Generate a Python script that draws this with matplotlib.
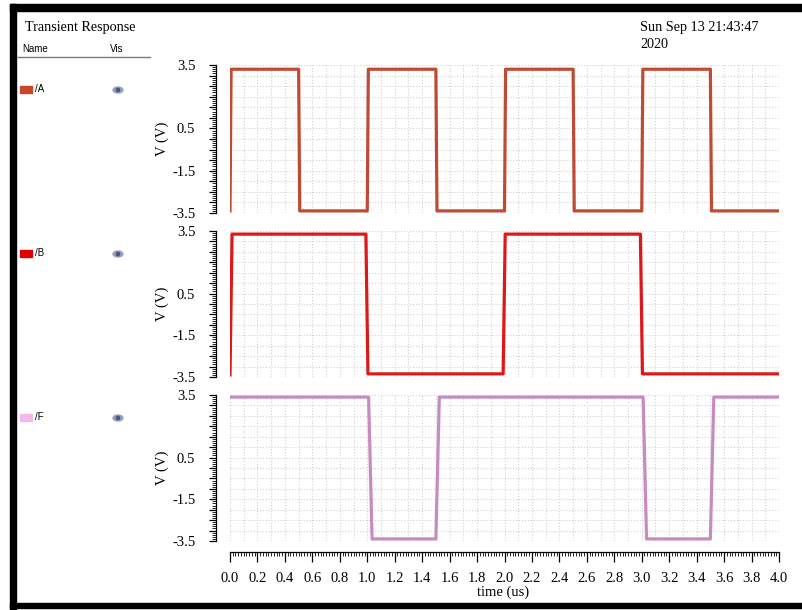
import numpy as np
import matplotlib.pyplot as plt
from matplotlib.patches import Rectangle, Ellipse
from matplotlib.lines import Line2D
from matplotlib.ticker import MultipleLocator, FixedLocator

# Transient response of three digital nets (/A, /B, /F), Cadence-style viewer.

# Data: switching instants (us) and the level reached after each edge (V)
t_end = 4.0
a_start = -3.4
a_edges = [0.0, 0.5, 1.0, 1.5, 2.0, 2.5, 3.0, 3.5]
a_levels = [3.3, -3.4, 3.3, -3.4, 3.3, -3.4, 3.3, -3.4]

b_start = -3.4
b_edges = [0.0, 0.99, 1.99, 2.99]
b_levels = [3.35, -3.35, 3.35, -3.35]

f_start = 3.4
f_edges = [1.01, 1.5, 3.01, 3.5]
f_levels = [-3.4, 3.4, -3.4, 3.4]

names = ['/A', '/B', '/F']
line_colors = ['#BF4B33', '#DD1818', '#C68CC0']
swatch_colors = ['#C8472A', '#E00000', '#F5B8E6']
yticks_shown = [3.5, 0.5, -1.5, -3.5]


def step_wave(start, edges, levels, ramp):
    t, v = [0.0], [start]
    cur = start
    for e, lv in zip(edges, levels):
        if e > 0:
            t.append(e)
            v.append(cur)
        t.append(e + ramp)
        v.append(lv)
        cur = lv
    t.append(t_end)
    v.append(cur)
    return t, v


waves = [step_wave(a_start, a_edges, a_levels, 0.008),
         step_wave(b_start, b_edges, b_levels, 0.015),
         step_wave(f_start, f_edges, f_levels, 0.025)]

W, H = 802, 610
fig = plt.figure(figsize=(W / 100, H / 100), dpi=100)


def fx(px):
    return px / W


def fy(py):
    return 1 - py / H


serif = 'Liberation Serif'
sans = 'Liberation Sans'
fs = 10.5

# black frame
fig.patches.append(Rectangle((fx(10), fy(11)), 1, 7 / H, color='black', transform=fig.transFigure))
fig.patches.append(Rectangle((fx(10), 0), 6 / W, fy(4), color='black', transform=fig.transFigure))
fig.patches.append(Rectangle((fx(10), fy(608)), 1, 5 / H, color='black', transform=fig.transFigure))

# header texts
fig.text(fx(25), fy(28), 'Transient Response', family=serif, fontsize=10.2, ha='left', va='center')
fig.text(fx(22), fy(49), 'Name', family=sans, fontsize=7, ha='left', va='center')
fig.text(fx(110), fy(49), 'Vis', family=sans, fontsize=7, ha='left', va='center')
fig.lines.append(Line2D([fx(18), fx(150)], [fy(57), fy(57)], color='#777777', lw=1, transform=fig.transFigure))
fig.text(fx(640), fy(28), 'Sun Sep 13 21:43:47', family=serif, fontsize=10.2, ha='left', va='center')
fig.text(fx(640), fy(45), '2020', family=serif, fontsize=10.2, ha='left', va='center')

panels = [(65, 213), (231, 377), (395, 541)]
legend_y = [89, 253, 417]

for i, (top, bot) in enumerate(panels):
    ax = fig.add_axes([fx(230), fy(bot), fx(779) - fx(230), (bot - top) / H])
    t, v = waves[i]
    ax.vlines(np.arange(0, 4.01, 0.1), -3.5, 3.5, colors='#d2d2d2', linestyles=':', lw=0.8, zorder=0)
    ax.hlines(np.arange(-3.5, 3.51, 0.5), 0, 4, colors='#d2d2d2', linestyles=':', lw=0.8, zorder=0)
    ax.plot(t, v, color=line_colors[i], lw=2.3, solid_joinstyle='round', zorder=3)
    ax.set_xlim(0, 4)
    ax.set_ylim(-3.5, 3.5)
    for s in ['top', 'right']:
        ax.spines[s].set_visible(False)
    ax.spines['left'].set_position(('outward', 10))
    ax.spines['left'].set_linewidth(0.9)
    ax.yaxis.set_major_locator(FixedLocator(np.arange(-3.5, 3.51, 0.5)))
    ax.set_yticklabels(['%g' % y if y in yticks_shown else '' for y in np.arange(-3.5, 3.51, 0.5)])
    ax.yaxis.set_minor_locator(MultipleLocator(0.1))
    ax.tick_params(axis='y', which='major', direction='out', length=5, width=0.9, pad=10)
    ax.tick_params(axis='y', which='minor', direction='out', length=3, width=0.6)
    for lab in ax.get_yticklabels():
        lab.set_family(serif)
        lab.set_fontsize(fs)
    ax.set_ylabel('V (V)', family=serif, fontsize=fs)
    ax.yaxis.set_label_coords(-0.112, 0.5)

    if i < 2:
        ax.spines['bottom'].set_visible(False)
        ax.tick_params(axis='x', which='both', bottom=False, labelbottom=False)
    else:
        ax.spines['bottom'].set_position(('outward', 8))
        ax.spines['bottom'].set_linewidth(0.9)
        ax.xaxis.set_major_locator(MultipleLocator(0.2))
        ax.xaxis.set_minor_locator(MultipleLocator(0.02))
        ax.set_xticklabels(['%.1f' % x for x in ax.get_xticks()])
        ax.tick_params(axis='x', which='major', direction='out', length=7, width=0.9, pad=7)
        ax.tick_params(axis='x', which='minor', direction='out', length=3, width=0.6)
        for lab in ax.get_xticklabels():
            lab.set_family(serif)
            lab.set_fontsize(fs)

    # signal list entry
    yy = legend_y[i]
    fig.patches.append(Rectangle((fx(20), fy(yy + 3.5)), 12 / W, 7 / H, color=swatch_colors[i], transform=fig.transFigure))
    fig.text(fx(35), fy(yy), names[i], family=sans, fontsize=7, ha='left', va='center')
    fig.patches.append(Ellipse((fx(118), fy(yy + 1)), 10 / W, 6 / H, color='#9aa6c0', transform=fig.transFigure))
    fig.patches.append(Ellipse((fx(118), fy(yy + 1)), 3.5 / W, 3.5 / H, color='#4a5a80', transform=fig.transFigure))

fig.text(fx(503), fy(592), 'time (us)', family=serif, fontsize=fs, ha='center', va='center')

plt.savefig('out.png', dpi=100)
